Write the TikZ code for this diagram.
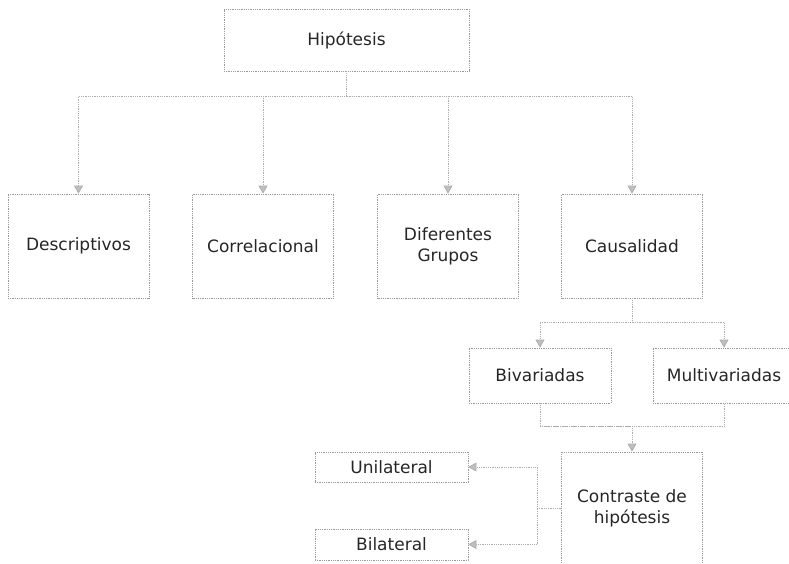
\documentclass[tikz,border=0pt]{standalone}
\usepackage{fontspec}
\setmainfont{DejaVu Sans}
\usetikzlibrary{arrows.meta}
\tikzset{
  box/.style={draw=gray!80, densely dotted, line width=0.8pt, align=center,
    inner sep=2pt, font=\fontsize{17}{21}\selectfont, text=black!85},
  big/.style={box, minimum width=141pt, minimum height=104pt},
  link/.style={draw=gray!65, densely dotted, line width=0.8pt},
  tip/.style={-{Triangle[width=9pt,length=8pt,fill=gray!50]}}
}

\begin{document}
\begin{tikzpicture}[x=1pt,y=-1pt]
  \useasboundingbox (0,0) rectangle (789,563);
  \clip (0,0) rectangle (789,563);
  % boxes
  \node (hip) [box, minimum width=245pt, minimum height=62pt] at (346.5,40) {Hipótesis};
  \node (desc) [big] at (78.5,246) {Descriptivos};
  \node (corr) [big] at (263,246) {Correlacional};
  \node (dif)  [big] at (448,246) {Diferentes\\Grupos};
  \node (caus) [big] at (632,246) {Causalidad};
  \node (biv)  [box, minimum width=142pt, minimum height=55pt] at (540,375.5) {Bivariadas};
  \node (mult) [box, minimum width=142pt, minimum height=55pt] at (724,375.5) {Multivariadas};
  \node (con)  [big, minimum height=112pt] at (632,508) {Contraste de\\hipótesis};
  \node (uni)  [box, minimum width=153pt, minimum height=30pt] at (391.5,467) {Unilateral};
  \node (bil)  [box, minimum width=153pt, minimum height=31pt] at (391.5,544.5) {Bilateral};
  % connectors
  \draw[link,tip] (hip.south) -- ++(0,25) -| (desc.north);
  \draw[link,tip] (hip.south) -- ++(0,25) -| (corr.north);
  \draw[link,tip] (hip.south) -- ++(0,25) -| (dif.north);
  \draw[link,tip] (hip.south) -- ++(0,25) -| (caus.north);
  \draw[link,tip] (caus.south) -- ++(0,24) -| (biv.north);
  \draw[link,tip] (caus.south) -- ++(0,24) -| (mult.north);
  \draw[link] (biv.south) -- ++(0,23) -| (mult.south);
  \draw[link,tip] (biv.south) ++(0,23) -| (con.north);
  \draw[link,tip] (con.west) -- ++(-24,0) |- (uni.east);
  \draw[link,tip] (con.west) -- ++(-24,0) |- (bil.east);
\end{tikzpicture}
\end{document}
